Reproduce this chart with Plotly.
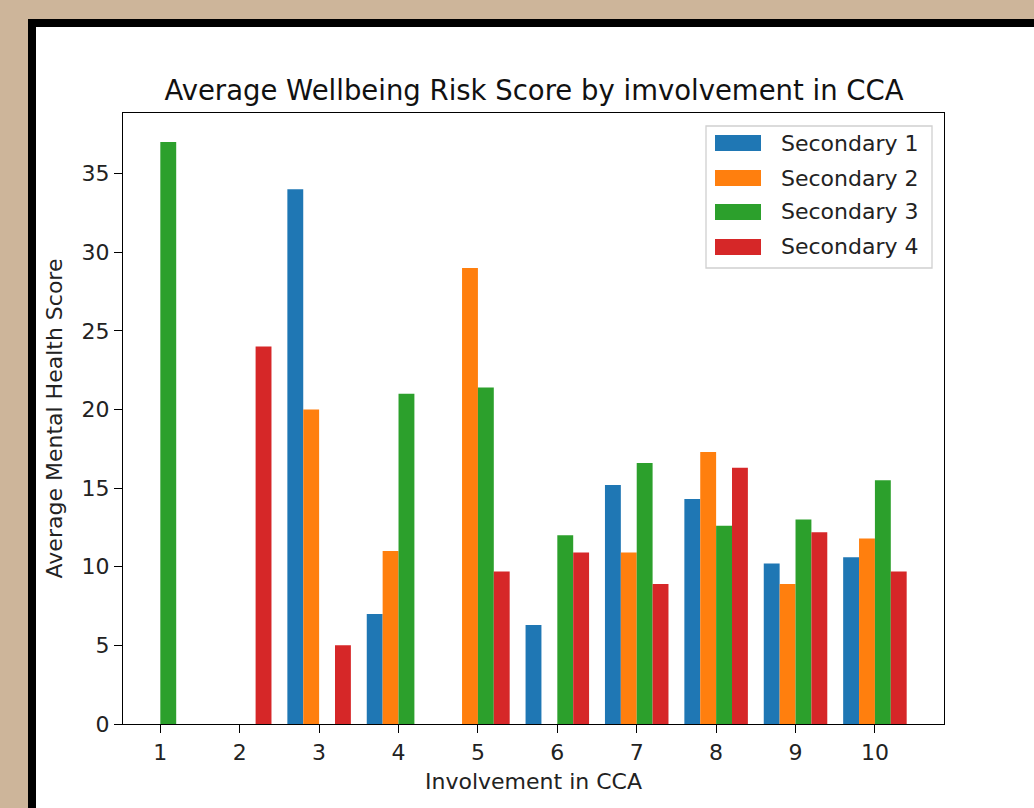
import plotly.graph_objects as go

categories = [1, 2, 3, 4, 5, 6, 7, 8, 9, 10]
series_names = ["Secondary 1", "Secondary 2", "Secondary 3", "Secondary 4"]
sec1 = [None, None, 34.0, 7.0, None, 6.3, 15.2, 14.3, 10.2, 10.6]
sec2 = [None, None, 20.0, 11.0, 29.0, None, 10.9, 17.3, 8.9, 11.8]
sec3 = [37.0, None, None, 21.0, 21.4, 12.0, 16.6, 12.6, 13.0, 15.5]
sec4 = [None, 24.0, 5.0, None, 9.7, 10.9, 8.9, 16.3, 12.2, 9.7]
y_ticks = [0, 5, 10, 15, 20, 25, 30, 35]

colors = ["#1f77b4", "#ff7f0e", "#2ca02c", "#d62728"]
W, H = 1034, 808
L, R, T, B = 123, 944, 113, 724
FONT = "DejaVu Sans"


def px(x):
    return (x - L) / (R - L)


def py(y):
    return (B - y) / (B - T)


fig = go.Figure()
for name, vals, c in zip(series_names, [sec1, sec2, sec3, sec4], colors):
    fig.add_trace(go.Bar(x=categories, y=vals, name=name, marker_color=c,
                         marker_line_width=0, showlegend=False))

shapes = [
    dict(type="rect", xref="paper", yref="paper", x0=px(-5), x1=px(W + 5), y0=py(H + 5), y1=py(-5),
         fillcolor="#CDB59A", line_width=0, layer="below"),
    dict(type="rect", xref="paper", yref="paper", x0=px(28), x1=px(W + 5), y0=py(H + 5), y1=py(19),
         fillcolor="#000000", line_width=0, layer="below"),
    dict(type="rect", xref="paper", yref="paper", x0=px(36), x1=px(W + 5), y0=py(H + 5), y1=py(27),
         fillcolor="#FFFFFF", line_width=0, layer="below"),
    # legend box
    dict(type="rect", xref="paper", yref="paper", x0=px(706), x1=px(932), y0=py(268), y1=py(126),
         fillcolor="rgba(255,255,255,0.8)", line=dict(color="#d0d0d0", width=1.3), layer="above"),
]
annotations = []
sw_centers = [143, 178, 212, 247]
for name, c, yc in zip(series_names, colors, sw_centers):
    shapes.append(dict(type="rect", xref="paper", yref="paper", x0=px(715), x1=px(761),
                       y0=py(yc + 8), y1=py(yc - 8), fillcolor=c, line_width=0, layer="above"))
    annotations.append(dict(text=name, xref="paper", yref="paper", x=px(779), y=py(yc),
                            xanchor="left", yanchor="middle", showarrow=False,
                            font=dict(family=FONT, size=22, color="#222222")))

fig.update_layout(
    width=W, height=H,
    margin=dict(l=L, r=W - R, t=T, b=H - B, pad=0),
    paper_bgcolor="#CDB59A",
    plot_bgcolor="rgba(0,0,0,0)",
    barmode="group", bargap=0.2, bargroupgap=0,
    font=dict(family=FONT, size=22, color="#222222"),
    title=dict(text="Average Wellbeing Risk Score by imvolvement in CCA",
               x=534 / W, xref="container", xanchor="center",
               y=1 - 90 / H, yref="container", yanchor="middle",
               font=dict(family=FONT, size=27.5, color="#111111")),
    xaxis=dict(range=[0.53, 10.87], tickvals=categories, ticktext=[str(c) for c in categories],
               showline=True, mirror=True, linecolor="black", linewidth=1.4,
               ticks="outside", ticklen=8, tickwidth=1.4, tickcolor="black",
               showgrid=False, zeroline=False,
               title=dict(text="Involvement in CCA", standoff=10, font=dict(size=22))),
    yaxis=dict(range=[0, 38.85], tickvals=y_ticks,
               showline=True, mirror=True, linecolor="black", linewidth=1.4,
               ticks="outside", ticklen=8, tickwidth=1.4, tickcolor="black",
               showgrid=False, zeroline=False,
               title=dict(text="Average Mental Health Score", standoff=12, font=dict(size=22))),
    shapes=shapes,
    annotations=annotations,
)

fig.write_html("out.html", config={"displayModeBar": False},
               post_script="document.body.style.margin='0';document.body.style.overflow='hidden';")
